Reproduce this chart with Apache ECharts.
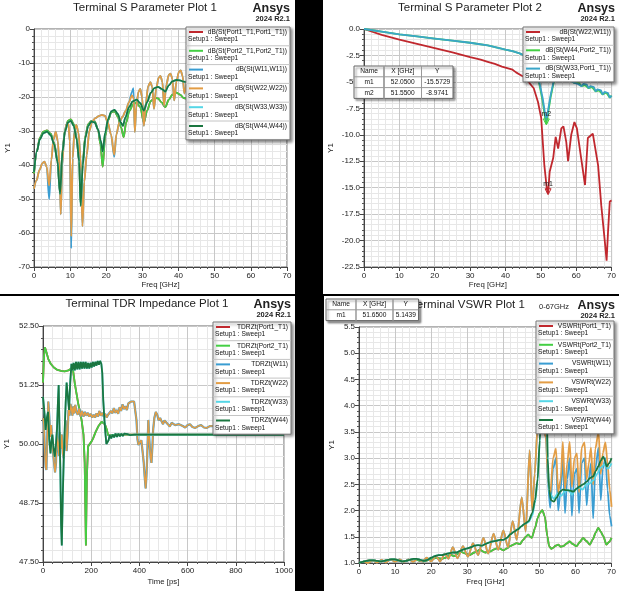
<!DOCTYPE html>
<html lang="en">
<head>
    <meta charset="UTF-8">
    <title>Terminal S / TDR / VSWR</title>
    <script src="https://cdn.jsdelivr.net/npm/echarts@6/dist/echarts.min.js"></script>
</head>
<style>
html,body{margin: 0;padding: 0;background-color: #000}
#chartBox{width: 619px;height: 591px}
</style>
<body>
    <div id="chartBox"></div>
</body>
<script>
// ---------- plot 1 : Terminal S Parameter Plot 1 (Freq GHz, dB) ----------
const p1Names = ['dB(St(Port1_T1,Port1_T1))', 'dB(St(Port2_T1,Port2_T1))', 'dB(St(W11,W11))',
                 'dB(St(W22,W22))', 'dB(St(W33,W33))', 'dB(St(W44,W44))'];
const p1W44 = [[0,-42],[0.8,-36],[1.6,-32.5],[2.6,-30.6],[3.6,-30.2],[4.6,-31.2],[5.6,-34],[6.5,-39],[7.2,-48.5],
    [7.9,-36],[8.6,-30],[9.4,-27.5],[10.2,-27],[11,-28.5],[11.8,-32.5],[12.5,-39],[12.9,-52],[13.5,-40],[14.2,-32],
    [15,-28.5],[15.9,-27.2],[16.8,-27.5],[17.7,-29.5],[18.5,-33],[19,-36],[19.7,-30.5],[20.5,-26.5],[21.4,-24.2],
    [22.3,-23.8],[23.2,-25],[24,-27.5],[24.6,-28.5],[25.3,-26],[26.3,-23],[27.3,-21.3],[28.4,-20.8],[29.4,-21.8],
    [30.4,-24],[31.3,-21.5],[32.3,-18.8],[33.3,-17.4],[34.3,-17],[35.3,-17.6],[36.3,-18.4],[37.3,-16.6],[38.3,-15.4],
    [39.4,-15],[40.4,-15.1],[41.4,-15.5],[42.5,-15.8]];
const p1Port2 = [[0,-42.5],[0.8,-36],[1.6,-32],[2.6,-30.2],[3.6,-29.8],[4.6,-30.8],[5.6,-33.6],[6.5,-39],[7.2,-48],
    [7.9,-35.5],[8.6,-29.5],[9.4,-27],[10.2,-26.6],[11,-28],[11.8,-32],[12.5,-39],[12.9,-51],[13.5,-39],[14.2,-31.5],
    [15,-28],[15.9,-27],[16.8,-27.2],[17.7,-29.5],[18.4,-34],[19,-40.5],[19.7,-31.5],[20.5,-26.8],[21.4,-24.5],
    [22.3,-24.2],[23.2,-25.8],[24.1,-29],[24.8,-31.8],[25.5,-27.5],[26.4,-24],[27.4,-22.2],[28.4,-21.6],[29.4,-23],
    [30.4,-27.5],[31.3,-24],[32.3,-21.2],[33.3,-20.3],[34.3,-20.4],[35.3,-21.6],[36.3,-23],[37.3,-20.8],[38.3,-19.3],
    [39.4,-18.7],[40.4,-19.3],[41.4,-20.3],[42.5,-20.6]];
const p1W22 = [[0,-47],[0.7,-44.5],[1.5,-41.5],[2.3,-39.5],[2.9,-39],[3.5,-40.5],[4.2,-46],[4.8,-38.5],[5.4,-32.5],
    [6,-30.3],[6.6,-33],[7.1,-42],[7.4,-54.5],[7.8,-40],[8.4,-31],[9,-28],[9.5,-27.8],[9.9,-33],[10.3,-61],[10.7,-38],
    [11.2,-30],[11.7,-28.2],[12.3,-30.5],[12.9,-38],[13.4,-58],[13.9,-45],[14.6,-37],[15.3,-30],[16.1,-27.2],
    [17,-26.2],[17.9,-25.6],[18.8,-25.3],[19.6,-25.5],[20.4,-27.5],[21.3,-31],[22.2,-37],[22.8,-31],[23.6,-27.5],
    [24.5,-25.8],[25.4,-24],[26.3,-21.5],[27.1,-19.5],[27.6,-20.5],[27.9,-30.3],[28.3,-23],[28.9,-18.5],[29.4,-17.6],
    [29.9,-20],[30.4,-28.5],[30.9,-22],[31.6,-16.8],[32.2,-15.6],[32.7,-17],[33.2,-23.5],[33.8,-17.5],[34.5,-14.3],
    [35,-13.8],[35.5,-15.5],[36,-22.5],[36.6,-16.5],[37.3,-13.5],[37.8,-13.1],[38.3,-14.8],[38.8,-21],[39.4,-15.5],
    [40.1,-12.6],[40.6,-12.2],[41.1,-13.8],[41.6,-19],[42.3,-15]];
const p1W11 = [[0,-47],[0.7,-44.5],[1.5,-41.5],[2.3,-39.5],[2.9,-39],[3.5,-40.5],[4.2,-50],[4.8,-38.5],[5.4,-32.5],
    [6,-30.3],[6.6,-33],[7.1,-42],[7.4,-54.5],[7.8,-40],[8.4,-31],[9,-28],[9.5,-27.8],[9.9,-33],[10.3,-64.5],[10.7,-38],
    [11.2,-30],[11.7,-28.2],[12.3,-30.5],[12.9,-38],[13.4,-58],[13.9,-45],[14.6,-37],[15.3,-30],[16.1,-27.2],
    [17,-26.2],[17.9,-25.6],[18.8,-25.3],[19.6,-25.5],[20.4,-27.5],[21.3,-31],[22.2,-37.6],[22.8,-31],[23.6,-27.5],
    [24.5,-25.8],[25.4,-24],[26.3,-21.5],[27.1,-18.5],[27.5,-17.4],[27.9,-30.3],[28.3,-23],[28.9,-18.5],[29.4,-17.6],
    [29.9,-20],[30.4,-28.5],[30.9,-22],[31.6,-16.8],[32.2,-15.6],[32.7,-17],[33.2,-23.5],[33.8,-17.5],[34.5,-14.3],
    [35,-13.8],[35.5,-15.5],[36,-22.5],[36.6,-16.5],[37.3,-13.5],[37.8,-13.1],[38.3,-14.8],[38.8,-21],[39.4,-15.5],
    [40.1,-12.6],[40.6,-12.2],[41.1,-13.8],[41.6,-19],[42.3,-15]];

// ---------- plot 2 : Terminal S Parameter Plot 2 ----------
const p2Names = ['dB(St(W22,W11))', 'dB(St(W44,Port2_T1))', 'dB(St(W33,Port1_T1))'];
const p2Red = [[0,0],[5,-0.55],[10,-1],[15,-1.4],[20,-1.8],[25,-2.2],[30,-2.65],[33,-2.9],[35,-3.1],[37,-3.3],
    [39,-3.55],[40,-3.65],[42,-3.85],[43,-4.1],[44,-4.3],[45,-4.5],[46,-4.7],[47,-5.2],[48,-5.6],[49.2,-6.9],
    [50.1,-8.4],[51,-12.9],[51.7,-15.1],[52.05,-15.57],[52.5,-13.5],[53.5,-12.2],[54.2,-10.2],[54.9,-11.3],
    [55.8,-9.4],[56.4,-9.2],[57.2,-10.7],[57.7,-12.5],[58.6,-10],[59.5,-8.8],[60.2,-9.4],[61.4,-12.2],[62.5,-14.75],
    [63.3,-10.3],[64.7,-9.9],[65.2,-10],[66.2,-12.9],[67.1,-16.7],[68.1,-20.1],[68.6,-21.9],[69,-19.2],[69.5,-16.3],
    [70,-16.2]];
const p2Green = [[0,0],[5,-0.25],[10,-0.5],[15,-0.7],[20,-0.9],[25,-1.1],[30,-1.3],[35,-1.55],[40,-1.95],[42,-2.1],
    [44,-2.3],[46,-2.6],[47.5,-3],[48.5,-3.7],[49.5,-5.1],[50.5,-6.8],[51.2,-8.4],[51.55,-8.97],[52,-8.1],[52.8,-6.4],
    [53.6,-5.1],[54.5,-4.6],[55.5,-4.5],[57,-4.7],[58.5,-4.9],[59.5,-5.1],[60.5,-5],[61.5,-5.4],[62.5,-5.3],
    [63.5,-5.6],[64.5,-5.5],[65.5,-5.9],[66.5,-5.8],[67.5,-6.2],[68.5,-6],[69.5,-6.5],[70,-6.3]];
const p2Cyan = [[0,0],[5,-0.25],[10,-0.5],[15,-0.7],[20,-0.9],[25,-1.1],[30,-1.3],[35,-1.55],[40,-1.95],[42,-2.1],
    [44,-2.3],[46,-2.6],[47.5,-3],[48.5,-3.6],[49.5,-4.9],[50.5,-6.5],[51.2,-8],[51.55,-8.6],[52,-7.8],[52.8,-6.2],
    [53.6,-5],[54.5,-4.5],[55.5,-4.45],[57,-4.7],[58.5,-4.9],[59.5,-5.1],[60,-4.95],[60.5,-5.2],[61,-5.05],[61.5,-5.4],
    [62,-5.2],[62.5,-5.35],[63,-5.25],[63.5,-5.6],[64,-5.4],[64.5,-5.55],[65,-5.5],[65.5,-5.9],[66,-5.7],[66.5,-5.85],
    [67,-5.8],[67.5,-6.2],[68,-5.95],[68.5,-6.1],[69,-6.05],[69.5,-6.5],[70,-6.3]];
const p2MarkNames = ['m1', 'm2'];
const p2MarkX = [52.05, 51.55];
const p2MarkY = [-15.5729, -8.9741];

// ---------- plot 3 : Terminal TDR Impedance Plot 1 (Time ps, Ohm) ----------
const p3Names = ['TDRZt(Port1_T1)', 'TDRZt(Port2_T1)', 'TDRZt(W11)', 'TDRZt(W22)', 'TDRZt(W33)', 'TDRZt(W44)'];
const p3Port2 = [[0,51.3],[4,51.85],[8,52.05],[14,51.95],[22,51.8],[32,51.7],[45,51.62],[60,51.57],[75,51.55],
    [90,51.54],[105,51.56],[118,51.6],[125,51.55],[132,51.28],[146,50.86],[160,50.51],[168,50.2],[173,49.6],
    [178,47.85],[182,49.3],[187,49.95],[194,49.98],[201,50.05],[208,50.12],[218,50.25],[229,50.37],[243,50.47],
    [257,50.42],[265,50.3],[270,50.19],[280,50.18],[300,50.2],[400,50.2],[600,50.2],[800,50.2],[1000,50.2]];
const p3W44 = [[0,51],[3,51.04],[7,50.6],[11,50.3],[16,50.55],[21,50.68],[26,50.1],[31,49.8],[35,50.05],[39,50.2],
    [44,49.9],[49,49.73],[54,50],[58,50.3],[62,50.9],[65,51.25],[69,50.2],[72,49.45],[75,48.3],[78,47.85],[82,48.9],
    [86,49.66],[90,50.3],[94,50.86],[98,51.3],[102,51.28],[105,50.9],[108,50.72],[113,51.3],[118,51.7],[122,51.56],
    [127,51.72],[132,51.56],[137,51.74],[142,51.58],[147,51.74],[152,51.58],[157,51.74],[162,51.6],[167,51.74],
    [172,51.6],[177,51.74],[182,51.6],[187,51.72],[192,51.6],[197,51.72],[202,51.62],[207,51.74],[212,51.64],
    [217,51.74],[222,51.66],[227,51.76],[232,51.68],[237,51.76],[242,51.7],[246,51.5],[250,50.93],[255,50.5],
    [259,50.23],[263,50],[267,49.96],[272,50.08],[277,50.19],[283,50.12],[289,50.2],[295,50.14],[301,50.22],
    [307,50.15],[313,50.22],[319,50.16],[325,50.22],[331,50.17],[337,50.22],[343,50.18],[350,50.21],[360,50.19],
    [380,50.2],[1000,50.2]];
const p3W22 = [[0,50.55],[4,50.4],[8,49.8],[11,49.52],[14,49.45],[18,50.2],[22,50.9],[26,50.6],[30,50.15],[34,50.4],
    [38,50.1],[42,49.8],[46,49.6],[50,49.4],[54,49.6],[58,50.3],[62,50],[66,49.75],[70,50.25],[74,49.9],[78,50.2],
    [82,49.8],[86,49.7],[90,50.1],[94,50.5],[98,49.85],[102,50.2],[106,50.72],[110,50.6],[114,50.85],[118,50.75],
    [122,50.6],[126,50.8],[130,50.65],[134,50.83],[138,50.7],[144,50.62],[150,50.75],[156,50.58],[162,50.7],
    [168,50.58],[174,50.68],[180,50.6],[186,50.66],[192,50.58],[198,50.64],[204,50.56],[210,50.62],[216,50.56],
    [222,50.65],[228,50.58],[234,50.7],[240,50.6],[246,50.66],[252,50.58],[258,50.64],[264,50.56],[270,50.62],
    [276,50.58],[282,50.7],[288,50.65],[294,50.76],[300,50.66],[306,50.72],[312,50.64],[318,50.78],[324,50.7],
    [330,50.84],[336,50.74],[342,50.8],[348,50.72],[354,50.86],[360,50.84],[366,50.9],[372,50.88],[378,50.9],
    [384,50.86],[388,50.5],[392,50.1],[396,49.98],[402,49.94],[408,50.08],[413,49.85],[418,49.6],[422,49.3],
    [426,49.06],[429,49.3],[432,49.66],[437,50.51],[440,50.2],[443,49.94],[447,49.7],[450,49.6],[454,49.95],
    [457,50.3],[462,50.55],[468,50.68],[474,50.62],[480,50.5],[486,50.55],[492,50.48],[498,50.42],[504,50.5],
    [510,50.52],[518,50.42],[526,50.37],[534,50.45],[540,50.47],[548,50.4],[556,50.36],[564,50.42],[572,50.44],
    [580,50.38],[590,50.35],[600,50.4],[610,50.42],[620,50.36],[632,50.34],[644,50.38],[656,50.4],[668,50.35],
    [680,50.34],[692,50.38],[705,50.38],[720,50.36],[760,50.37],[800,50.36],[850,50.37],[900,50.36],[950,50.37],
    [1000,50.36]];

// ---------- plot 4 : Terminal VSWR Plot 1 ----------
const p4Names = ['VSWRt(Port1_T1)', 'VSWRt(Port2_T1)', 'VSWRt(W11)', 'VSWRt(W22)', 'VSWRt(W33)', 'VSWRt(W44)'];
const p4W44 = [[0,1],[1,1.02],[2,1.04],[3,1.05],[4,1.05],[5,1.04],[6,1.03],[7,1.04],[8,1.06],[9,1.07],[10,1.07],
    [11,1.05],[12,1.03],[13,1.04],[14,1.06],[15,1.08],[16,1.08],[17,1.06],[18,1.04],[19,1.06],[20,1.1],[21,1.13],
    [22,1.15],[23,1.15],[24,1.17],[25,1.19],[26,1.2],[27,1.2],[28,1.23],[29,1.26],[30,1.28],[31,1.3],[32,1.33],
    [33,1.34],[34,1.33],[35,1.36],[36,1.39],[37,1.41],[38,1.42],[39,1.44],[40,1.44],[41,1.48],[42,1.55],[43,1.6],
    [44,1.64],[45,1.7],[46,1.75],[47,1.8],[48,1.95],[48.8,2.2],[49.5,2.6],[50.1,3.34],[50.7,4.3],[51.2,4.9],
    [51.65,5.14],[52,4.2],[52.3,3],[52.7,2.4],[53.2,2.2],[54,2.17],[54.8,2.25],[55.7,2.36],[56.5,2.4],[57.5,2.39],
    [58.5,2.38],[59.4,2.36],[60.3,2.42],[61.2,2.46],[62.1,2.5],[63.1,2.55],[64,2.62],[64.9,2.65],[65.6,2.75],
    [66.3,2.84],[67,2.95],[67.7,3.03],[68.2,2.95],[68.6,2.84],[69.3,2.9],[70,3]];
const p4W33Tail = [[47,1.78],[48,1.9],[48.8,2.15],[49.5,2.55],[50.1,3.3],[50.7,4.2],[51.2,4.8],[51.65,5.05],[52,4.1],
    [52.3,2.9],[52.7,2.35],[53.4,2.28],[54,2.22],[55,2.32],[56,2.28],[57,2.36],[58,2.4],[59,2.3],[60,2.4],
    [61,2.44],[62,2.4],[63,2.5],[64,2.52],[65,2.58],[66,2.7],[67,2.82],[68,2.88],[69,2.8],[70,2.9]];
const p4Port2 = [[0,1],[1,1.02],[2,1.04],[3,1.05],[4,1.05],[5,1.04],[6,1.03],[7,1.04],[8,1.06],[9,1.07],[10,1.07],
    [11,1.05],[12,1.03],[13,1.04],[14,1.06],[15,1.07],[16,1.06],[17,1.04],[18,1.03],[19,1.05],[20,1.08],[21.5,1.1],
    [23,1.08],[24,1.1],[25.2,1.16],[26.5,1.13],[28,1.22],[29.5,1.18],[30.7,1.15],[32,1.2],[33.5,1.25],[35,1.2],
    [36.3,1.22],[37.5,1.26],[38.6,1.29],[40,1.24],[41,1.28],[41.8,1.32],[42.8,1.35],[43.7,1.38],[44.6,1.36],
    [45.5,1.44],[46.2,1.5],[46.9,1.54],[47.5,1.5],[47.9,1.48],[48.8,1.67],[49.5,1.85],[50.1,1.95],[50.8,2.01],
    [51.5,1.89],[52.2,1.51],[52.7,1.32],[53.3,1.27],[53.8,1.29],[54.5,1.33],[55.2,1.35],[55.9,1.31],[56.6,1.32],
    [57.5,1.37],[58.4,1.41],[59.3,1.36],[60.3,1.32],[61.2,1.4],[62.1,1.48],[63,1.42],[64,1.35],[64.8,1.45],
    [65.6,1.58],[66.3,1.67],[67,1.6],[67.7,1.51],[68.6,1.35],[69.3,1.4],[70,1.48]];
const p4W22 = [[0,1],[1.2,1.02],[2.5,1],[3.8,1.05],[5,1.01],[6.3,1.06],[7.5,1.01],[8.8,1.07],[10,1.02],[11.3,1.07],
    [12.5,1.02],[13.8,1.07],[15,1.02],[16.3,1.08],[17.5,1.03],[18.8,1.1],[20,1.03],[21.3,1.13],[22.5,1.03],
    [23.8,1.18],[24.8,1.08],[26,1.3],[27.3,1.09],[28.8,1.32],[30.2,1.12],[31.6,1.38],[33,1.15],[34.5,1.48],
    [35.8,1.18],[37.3,1.56],[38.6,1.25],[40,1.62],[41.3,1.3],[42.6,1.8],[43.7,1.44],[45.1,2.25],[46.2,1.6],
    [47.3,3.15],[48,2],[48.7,2.7],[49.5,3.6],[50.3,3.8],[51,3.6],[51.8,3.4],[52.4,2.6],[53,2.3],[53.8,3],
    [54.6,3.18],[55.2,2.35],[55.9,2.6],[56.5,3.31],[57.1,2.4],[57.7,2.9],[58.4,3.31],[59,2.45],[59.7,3],[60.4,3.09],
    [61,2.35],[61.7,3.2],[62.5,3.3],[63.1,2.6],[63.7,2.9],[64.3,3.2],[64.9,2.5],[65.5,3.18],[66.4,3.5],[67,2.7],
    [67.6,3.1],[68.3,3.3],[68.9,2.9],[69.5,2.4],[70,2.07]];
const p4W11Tail = [[52.4,2.5],[53,2.05],[53.8,2.8],[54.6,3],[55.2,2],[55.9,2.4],[56.5,3],[57.1,1.95],[57.7,2.6],
    [58.4,3],[59,1.9],[59.7,2.7],[60.4,2.8],[61,1.95],[61.7,2.9],[62.5,3],[63.1,2.1],[63.7,2.6],[64.3,2.9],
    [64.9,1.85],[65.5,2.8],[66.4,3.2],[67,2.2],[67.6,2.8],[68.3,3],[68.9,2.4],[69.5,1.9],[70,1.7]];
const p4MarkNames = ['m1'];
const p4MarkX = [51.65];
const p4MarkY = [5.1439];

const FONT = 'Arial, "Liberation Sans", sans-serif';
// line colours
const C_RED = '#c0282e', C_GREEN = '#44cf44', C_BLUE = '#3a9dd2', C_ORANGE = '#e39d45',
      C_CYAN = '#55d6e6', C_DKGREEN = '#1b7640', C_TEAL = '#3aa5c8';

function xAx(gi, max, interval, name, gap) {
    return {
        type: 'value', gridIndex: gi, min: 0, max: max, interval: interval,
        name: name, nameLocation: 'middle', nameGap: gap,
        nameTextStyle: {fontSize: 7.8, color: '#222', fontFamily: FONT},
        axisLine: {onZero: false, lineStyle: {color: '#444'}},
        axisTick: {length: 4, lineStyle: {color: '#444'}},
        minorTick: {show: true, splitNumber: 5, length: 2, lineStyle: {color: '#555'}},
        axisLabel: {fontSize: 8, color: '#222', margin: 5, fontFamily: FONT, formatter: v => String(v)},
        splitLine: {show: true, lineStyle: {color: '#c8c8c8'}},
        minorSplitLine: {show: true, lineStyle: {color: '#e7e7e7'}}
    };
}
function yAx(gi, min, max, interval, digits, gap) {
    return {
        type: 'value', gridIndex: gi, min: min, max: max, interval: interval,
        name: 'Y1', nameLocation: 'middle', nameGap: gap,
        nameTextStyle: {fontSize: 8, color: '#222', fontFamily: FONT},
        axisLine: {onZero: false, lineStyle: {color: '#444'}},
        axisTick: {length: 4, lineStyle: {color: '#444'}},
        minorTick: {show: true, splitNumber: 5, length: 2, lineStyle: {color: '#555'}},
        axisLabel: {fontSize: 8, color: '#222', margin: 4, fontFamily: FONT,
                    formatter: v => v.toFixed(digits)},
        splitLine: {show: true, lineStyle: {color: '#c8c8c8'}},
        minorSplitLine: {show: true, lineStyle: {color: '#e7e7e7'}}
    };
}
function line(name, gi, data, color, width, smooth) {
    return {
        type: 'line', name: name, xAxisIndex: gi, yAxisIndex: gi, data: data,
        symbol: 'none', animation: false, smooth: smooth || false, smoothMonotone: 'x',
        lineStyle: {color: color, width: width || 1.8}, itemStyle: {color: color}
    };
}
function markers(names, xs, ys, color) {
    return {
        symbol: 'triangle', symbolSize: 6, symbolRotate: 180, symbolOffset: [0, -2],
        itemStyle: {color: 'rgba(0,0,0,0)', borderColor: color, borderWidth: 1},
        label: {show: true, position: 'top', distance: 1, fontSize: 7, color: '#222',
                fontFamily: FONT, formatter: p => p.name},
        data: names.map((n, i) => ({name: n, coord: [xs[i], ys[i]]}))
    };
}

// boxed legend drawn the Ansys way: sample line, name right, "Setup1 : Sweep1" below
function legendBox(x, y, w, rowH, names, colors) {
    const els = [{
        type: 'rect', z: 100, shape: {x: x, y: y, width: w, height: rowH * names.length},
        style: {fill: '#fff', stroke: '#777', lineWidth: 1, shadowBlur: 3, shadowOffsetX: 2,
                shadowOffsetY: 2, shadowColor: 'rgba(0,0,0,0.45)'}
    }];
    names.forEach((n, i) => {
        const top = y + i * rowH;
        if (i > 0) {
            els.push({type: 'line', z: 101, shape: {x1: x, y1: top, x2: x + w, y2: top},
                      style: {stroke: '#c4c4c4', lineWidth: 1}});
        }
        els.push({type: 'line', z: 101, shape: {x1: x + 3, y1: top + 5, x2: x + 17, y2: top + 5},
                  style: {stroke: colors[i], lineWidth: 2}});
        els.push({type: 'text', z: 101, style: {text: n, x: x + w - 3, y: top + 5, align: 'right',
                  verticalAlign: 'middle', font: '6.6px ' + FONT, fill: '#111'}});
        els.push({type: 'text', z: 101, style: {text: 'Setup1 : Sweep1', x: x + 2, y: top + 12.5,
                  align: 'left', verticalAlign: 'middle', font: '6.6px ' + FONT, fill: '#111'}});
    });
    return els;
}
function markTable(x, y, colW, rowH, names, xs, ys, unit) {
    const rows = [['Name', unit, 'Y']].concat(names.map((n, i) => [n, xs[i].toFixed(4), ys[i].toFixed(4)]));
    const W = colW.reduce((a, b) => a + b, 0);
    const els = [{
        type: 'rect', z: 110, shape: {x: x, y: y, width: W, height: rowH * rows.length},
        style: {fill: '#fff', stroke: '#666', lineWidth: 1, shadowBlur: 2, shadowOffsetX: 2,
                shadowOffsetY: 2, shadowColor: 'rgba(0,0,0,0.4)'}
    }];
    rows.forEach((r, i) => {
        if (i > 0) {
            els.push({type: 'line', z: 111, shape: {x1: x, y1: y + i * rowH, x2: x + W, y2: y + i * rowH},
                      style: {stroke: '#999', lineWidth: 1}});
        }
        let cx = x;
        r.forEach((cell, j) => {
            els.push({type: 'text', z: 111, style: {text: cell, x: cx + colW[j] / 2, y: y + i * rowH + rowH / 2,
                      align: 'center', verticalAlign: 'middle', font: '6.6px ' + FONT, fill: '#111'}});
            cx += colW[j];
            if (j < r.length - 1) {
                els.push({type: 'line', z: 111, shape: {x1: cx, y1: y, x2: cx, y2: y + rowH * rows.length},
                          style: {stroke: '#999', lineWidth: 1}});
            }
        });
    });
    return els;
}
function header(cx, y, title, rightX) {
    return [
        {type: 'text', z: 50, style: {text: title, x: cx, y: y, align: 'center', verticalAlign: 'middle',
         font: '11.5px ' + FONT, fill: '#222'}},
        {type: 'text', z: 50, style: {text: 'Ansys', x: rightX, y: y + 1, align: 'right', verticalAlign: 'middle',
         font: 'bold 12.5px ' + FONT, fill: '#222'}},
        {type: 'text', z: 50, style: {text: '2024 R2.1', x: rightX, y: y + 11, align: 'right', verticalAlign: 'middle',
         font: 'bold 7.5px ' + FONT, fill: '#222'}}
    ];
}
function panel(x, y, w, h) {
    return {type: 'rect', z: -10, shape: {x: x, y: y, width: w, height: h}, style: {fill: '#fff'}};
}

const graphics = [
    panel(0, 0, 295, 294), panel(323, 0, 296, 294), panel(0, 296, 295, 295), panel(324, 296, 295, 295)
].concat(
    header(145, 8, 'Terminal S Parameter Plot 1', 290),
    header(470, 8, 'Terminal S Parameter Plot 2', 615),
    header(147, 304, 'Terminal TDR Impedance Plot 1', 291),
    header(468, 305, 'Terminal VSWR Plot 1', 615),
    [{type: 'text', z: 50, style: {text: '0-67GHz', x: 554, y: 307, align: 'center', verticalAlign: 'middle',
      font: '7.5px ' + FONT, fill: '#222'}}],
    legendBox(186, 27, 104, 18.8, p1Names, [C_RED, C_GREEN, C_BLUE, C_ORANGE, C_CYAN, C_DKGREEN]),
    legendBox(523, 27, 91, 18.3, p2Names, [C_RED, C_GREEN, C_TEAL]),
    legendBox(213, 322, 78, 18.7, p3Names, [C_RED, C_GREEN, C_BLUE, C_ORANGE, C_CYAN, C_DKGREEN]),
    legendBox(536, 321, 78, 18.8, p4Names, [C_RED, C_GREEN, C_BLUE, C_ORANGE, C_CYAN, C_DKGREEN]),
    markTable(354, 66, [30, 37.5, 31.5], 10.8, p2MarkNames, p2MarkX, p2MarkY, 'X [GHz]'),
    markTable(326, 299, [30, 37, 25.5], 10.8, p4MarkNames, p4MarkX, p4MarkY, 'X [GHz]')
);

const red2 = line(p2Names[0], 1, p2Red, C_RED);
red2.markPoint = markers(['m1'], [p2MarkX[0]], [p2MarkY[0]], C_RED);
const green2 = line(p2Names[1], 1, p2Green, C_GREEN);
green2.markPoint = markers(['m2'], [p2MarkX[1]], [p2MarkY[1]], C_GREEN);

const option = {
    backgroundColor: '#000',
    textStyle: {fontFamily: FONT},
    grid: [
        {left: 34, top: 29, width: 253, height: 238, show: true, borderColor: '#666', backgroundColor: '#fff'},
        {left: 364, top: 29, width: 248, height: 238, show: true, borderColor: '#666', backgroundColor: '#fff'},
        {left: 43, top: 326, width: 241, height: 236, show: true, borderColor: '#666', backgroundColor: '#fff'},
        {left: 359, top: 327, width: 253, height: 236, show: true, borderColor: '#666', backgroundColor: '#fff'}
    ],
    xAxis: [
        xAx(0, 70, 10, 'Freq [GHz]', 14),
        xAx(1, 70, 10, 'Freq [GHz]', 14),
        xAx(2, 1000, 200, 'Time [ps]', 16),
        xAx(3, 70, 10, 'Freq [GHz]', 15)
    ],
    yAxis: [
        yAx(0, -70, 0, 10, 0, 22),
        yAx(1, -22.5, 0, 2.5, 1, 29),
        yAx(2, 47.5, 52.5, 1.25, 2, 32),
        yAx(3, 1, 5.5, 0.5, 1, 23)
    ],
    series: [
        line(p1Names[0], 0, p1Port2, C_RED, 1.8, 0.3),
        line(p1Names[1], 0, p1Port2, C_GREEN, 1.8, 0.3),
        line(p1Names[2], 0, p1W11, C_BLUE, 1.8, 0.3),
        line(p1Names[3], 0, p1W22, C_ORANGE, 1.8, 0.3),
        line(p1Names[4], 0, p1W44, C_CYAN, 1.8, 0.3),
        line(p1Names[5], 0, p1W44, C_DKGREEN, 1.8, 0.3),
        red2, green2,
        line(p2Names[2], 1, p2Cyan, C_TEAL),
        line(p3Names[0], 2, p3Port2, C_RED),
        line(p3Names[1], 2, p3Port2, C_GREEN),
        line(p3Names[2], 2, p3W22, C_BLUE, 2.2),
        line(p3Names[3], 2, p3W22, C_ORANGE, 1.5),
        line(p3Names[4], 2, p3W44, C_CYAN),
        line(p3Names[5], 2, p3W44, C_DKGREEN),
        line(p4Names[0], 3, p4Port2, C_RED, 1.8, 0.25),
        line(p4Names[1], 3, p4Port2, C_GREEN, 1.8, 0.25),
        line(p4Names[2], 3, p4W22.filter(p => p[0] < 52.4).concat(p4W11Tail), C_BLUE, 1.8, 0.25),
        line(p4Names[3], 3, p4W22, C_ORANGE, 1.8, 0.25),
        line(p4Names[4], 3, p4W44.filter(p => p[0] < 47).concat(p4W33Tail), C_CYAN, 1.8, 0.25),
        line(p4Names[5], 3, p4W44, C_DKGREEN, 1.8, 0.25)
    ],
    graphic: graphics
};

let chartObj = echarts.init(document.getElementById('chartBox'));
chartObj.setOption(option);
</script>
</html>
